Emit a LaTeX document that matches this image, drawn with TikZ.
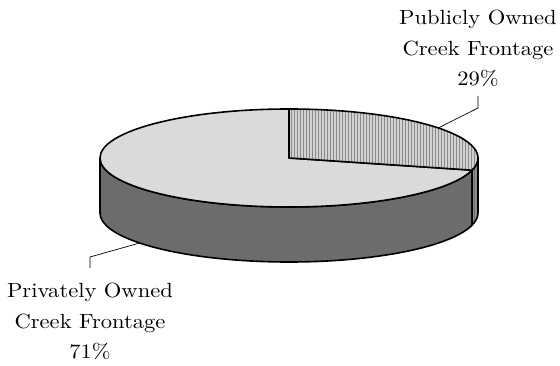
\documentclass[tikz,border=0pt]{standalone}
\usepackage{fontspec}
\usepackage{xcolor}
\usetikzlibrary{patterns}

\newfontfamily\labelfont{lmroman10-regular.otf}[FakeStretch=1.1]

\definecolor{privTop}{HTML}{DADADA}
\definecolor{privSide}{HTML}{6C6C6C}
\definecolor{pubTop}{HTML}{D2D2D2}
\definecolor{pubLine}{HTML}{8A8A8A}
\definecolor{pubSide}{HTML}{8E8E8E}

\tikzset{
  rim/.style={draw=black, line width=1.6pt, line join=round},
  leader/.style={draw=black, line width=0.7pt},
  pielabel/.style={align=center, inner sep=0pt, anchor=north,
    font=\labelfont\fontsize{20.5}{30.5}\selectfont}
}

\begin{document}
\begin{tikzpicture}[x=1pt, y=1pt]
			\useasboundingbox (0, 0) rectangle (560, 366);
			
			%Sides
			\path[rim, fill=privSide] (289, 208) ++(180:189 and 49)
				arc[start angle=180, end angle=345.6, x radius=189, y radius=49]
				-- ++(0, -55)
				arc[start angle=345.6, end angle=180, x radius=189, y radius=49] -- cycle;
			\path[rim, preaction={fill=pubSide}, pattern=vertical lines, pattern color=privSide]
				(289, 208) ++(345.6:189 and 49)
				arc[start angle=345.6, end angle=360, x radius=189, y radius=49]
				-- ++(0, -55)
				arc[start angle=360, end angle=345.6, x radius=189, y radius=49] -- cycle;
			
			%Top
			\path[rim, fill=privTop] (289, 208) -- ++(90:189 and 49)
				arc[start angle=90, end angle=345.6, x radius=189, y radius=49] -- cycle;
			\path[rim, preaction={fill=pubTop}, pattern=vertical lines, pattern color=pubLine]
				(289, 208) -- ++(-14.4:189 and 49)
				arc[start angle=-14.4, end angle=90, x radius=189, y radius=49] -- cycle;
			
			%Edge points
			\path (289, 208) ++(37.8:189 and 49) coordinate (pubEdge);
			\path (289, 153) ++(217.8:189 and 49) coordinate (privEdge);
			
			%Labels
			\node[pielabel] (pubLabel) at (478, 356) {Publicly Owned\\Creek Frontage\\29\%};
			\node[pielabel] (privLabel) at (90, 83) {Privately Owned\\Creek Frontage\\71\%};
			
			%Leaders
			\coordinate (pubKnee) at (478, 258);
			\coordinate (privKnee) at (90, 109);
			\draw[leader] (pubLabel.south) ++(0, -9) -- (pubKnee) -- (pubEdge);
			\draw[leader] (90, 98) -- (privKnee) -- (privEdge);
\end{tikzpicture}
\end{document}
